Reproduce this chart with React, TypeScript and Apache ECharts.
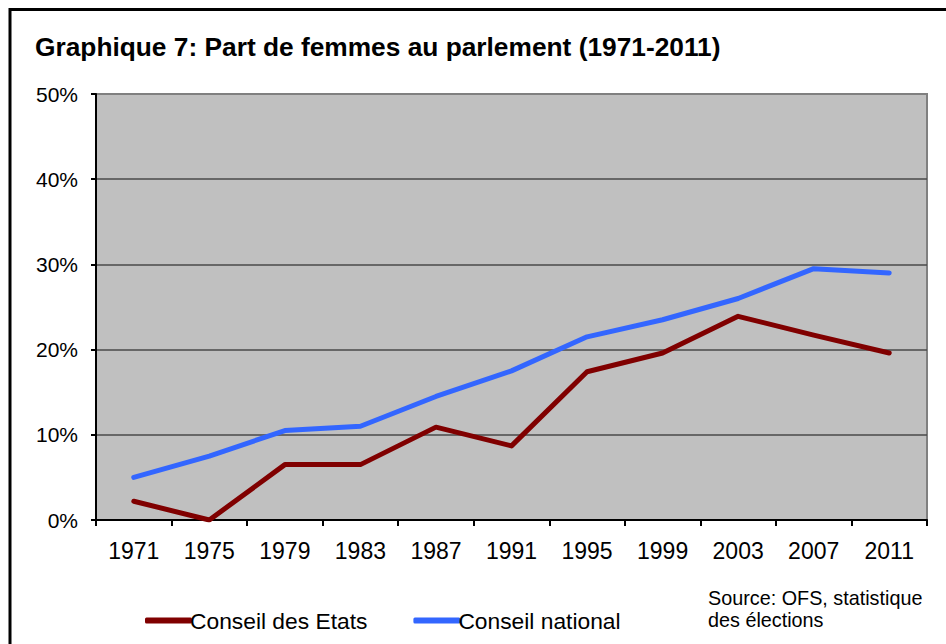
import React, { useEffect, useRef } from "react";
import * as echarts from "echarts";

const years = ["1971", "1975", "1979", "1983", "1987", "1991", "1995", "1999", "2003", "2007", "2011"];
const conseilEtats = [2.2, 0, 6.5, 6.5, 10.9, 8.7, 17.4, 19.6, 23.9, 21.7, 19.6];
const conseilNational = [5.0, 7.5, 10.5, 11.0, 14.5, 17.5, 21.5, 23.5, 26.0, 29.5, 29.0];
const seriesNames = ["Conseil des Etats", "Conseil national"];
const titleText = "Graphique 7: Part de femmes au parlement (1971-2011)";
const sourceLines = ["Source: OFS, statistique", "des élections"];

const FONT = "'Liberation Sans', Arial, sans-serif";

export default function App() {
  const ref = useRef<HTMLDivElement>(null);

  useEffect(() => {
    if (!ref.current) return;
    const chart = echarts.init(ref.current, null, { renderer: "svg" });
    chart.setOption({
      animation: false,
      backgroundColor: "#ffffff",
      textStyle: { fontFamily: FONT },
      grid: {
        left: 96,
        top: 94,
        right: 19,
        bottom: 124,
        show: true,
        backgroundColor: "#c0c0c0",
        borderColor: "#808080",
        borderWidth: 2,
        containLabel: false,
        outerBoundsMode: "none",
      },
      legend: {
        left: 140,
        top: 604,
        icon: "roundRect",
        itemWidth: 47,
        itemHeight: 6,
        itemGap: 46,
        textStyle: { fontFamily: FONT, fontSize: 22.8, color: "#000", padding: [0, 0, 0, -7] },
        data: seriesNames,
      },
      xAxis: {
        type: "category",
        data: years,
        boundaryGap: true,
        axisLine: { lineStyle: { color: "#000", width: 2 } },
        axisTick: { show: true, length: 6, lineStyle: { color: "#000", width: 2 } },
        axisLabel: { fontFamily: FONT, fontSize: 23, color: "#000", margin: 19 },
        splitLine: { show: false },
      },
      yAxis: {
        type: "value",
        min: 0,
        max: 50,
        interval: 10,
        axisLine: { show: true, lineStyle: { color: "#000", width: 2 } },
        axisTick: { show: true, length: 5, lineStyle: { color: "#000", width: 2 } },
        axisLabel: { fontFamily: FONT, fontSize: 21, color: "#000", margin: 18, formatter: "{value}%" },
        splitLine: {
          show: true,
          showMinLine: false,
          showMaxLine: false,
          lineStyle: { color: "#4a4a4a", width: 1.5 },
        },
      },
      series: [
        {
          name: seriesNames[0],
          type: "line",
          data: conseilEtats,
          symbol: "none",
          color: "#800000",
          lineStyle: { color: "#800000", width: 5, cap: "round", join: "round" },
          z: 3,
        },
        {
          name: seriesNames[1],
          type: "line",
          data: conseilNational,
          symbol: "none",
          color: "#3366ff",
          lineStyle: { color: "#3366ff", width: 5, cap: "round", join: "round" },
          z: 2,
        },
      ],
      graphic: [
        {
          type: "rect",
          shape: { x: 10, y: 9.5, width: 1200, height: 1200 },
          style: { fill: "none", stroke: "#000", lineWidth: 3 },
          silent: true,
        },
        {
          type: "text",
          x: 35,
          y: 46.5,
          style: {
            text: titleText,
            font: `bold 26.3px ${FONT}`,
            fill: "#000",
            verticalAlign: "middle",
          },
        },
        {
          type: "text",
          x: 708,
          y: 598,
          style: { text: sourceLines[0], font: `19.8px ${FONT}`, fill: "#000", verticalAlign: "middle" },
        },
        {
          type: "text",
          x: 708,
          y: 620,
          style: { text: sourceLines[1], font: `19.8px ${FONT}`, fill: "#000", verticalAlign: "middle" },
        },
      ],
    });
    return () => chart.dispose();
  }, []);

  return (
    <div
      ref={ref}
      style={{ position: "fixed", left: 0, top: 0, width: 946, height: 644, background: "#fff" }}
    />
  );
}
